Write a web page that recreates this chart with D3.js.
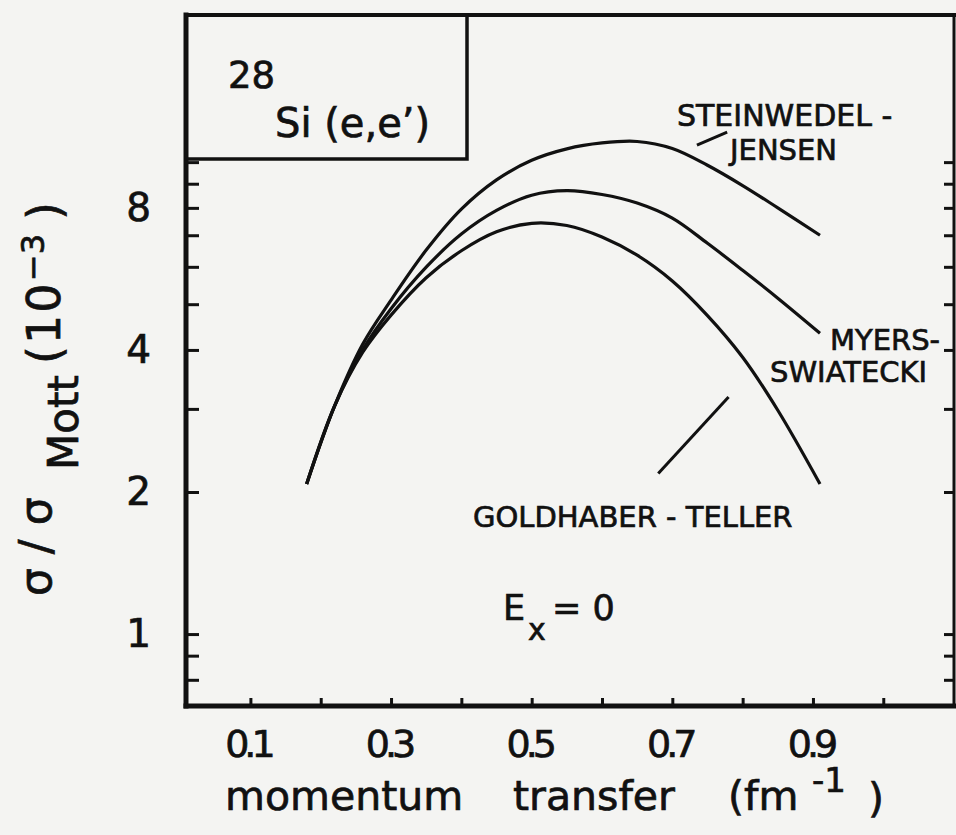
<!DOCTYPE html>
<html>
<head>
<meta charset="utf-8">
<script src="https://cdn.jsdelivr.net/npm/d3@7"></script>
<style>
body{margin:0;background:#f4f4f2;}
svg{display:block;}
text{font-family:"DejaVu Sans",sans-serif;fill:#111;stroke:#111;stroke-width:0.7px;}
</style>
</head>
<body>
<script>
(function(){

//momentum transfer values (fm^-1) where the curves were read
var qValues = [0.18, 0.22, 0.26, 0.30, 0.35, 0.40, 0.45, 0.50, 0.55, 0.60, 0.65, 0.70, 0.75, 0.80, 0.85, 0.91];

//sigma / sigma_Mott (10^-3) for the three models
var steinwedelJensen = [2.08, 3.05, 4.12, 5.10, 6.51, 7.95, 9.17, 10.09, 10.67, 10.98, 11.06, 10.69, 9.85, 8.92, 8.00, 7.0];
var myersSwiatecki   = [2.08, 3.05, 4.01, 4.89, 5.99, 7.04, 7.90, 8.51, 8.70, 8.54, 8.19, 7.61, 6.73, 5.90, 5.15, 4.34];
var goldhaberTeller  = [2.08, 3.05, 3.96, 4.74, 5.69, 6.49, 7.12, 7.42, 7.34, 6.94, 6.35, 5.60, 4.73, 3.86, 2.98, 2.08];

//axis ticks and labels
var xTickValues = [0.1, 0.2, 0.3, 0.4, 0.5, 0.6, 0.7, 0.8, 0.9, 1.0];
var xLabelValues = [0.1, 0.3, 0.5, 0.7, 0.9];
var yTickValues = [0.8, 0.9, 1, 2, 3, 4, 5, 6, 7, 8, 9, 10];
var yLabelValues = [1, 2, 4, 8];

var width = 956,
    height = 835;

var svg = d3.select("body")
    .append("svg")
    .attr("width", width)
    .attr("height", height);

svg.append("rect")
    .attr("width", width)
    .attr("height", height)
    .attr("fill", "#f4f4f2");

//scales
var x = d3.scaleLinear()
    .domain([0.007, 1.102])
    .range([185, 955]);

var y = d3.scaleLog()
    .domain([0.704, 20.5])
    .range([706, 15]);

var ink = "#111";

function styleAxis(g){
    g.select(".domain").remove();
    g.selectAll(".tick line").attr("stroke", ink).attr("stroke-width", 3);
    g.selectAll(".tick text").attr("fill", ink);
}

//inward ticks on left, right and bottom
svg.append("g")
    .attr("transform", "translate(186,0)")
    .call(d3.axisRight(y).tickValues(yTickValues).tickSize(13).tickFormat(""))
    .call(styleAxis);

svg.append("g")
    .attr("transform", "translate(954,0)")
    .call(d3.axisLeft(y).tickValues(yTickValues).tickSize(10).tickFormat(""))
    .call(styleAxis);

svg.append("g")
    .attr("transform", "translate(0,706)")
    .call(d3.axisTop(x).tickValues(xTickValues).tickSize(8).tickFormat(""))
    .call(styleAxis);

//tick labels
svg.append("g")
    .attr("transform", "translate(-3,706)")
    .call(d3.axisBottom(x).tickValues(xLabelValues).tickSize(0).tickPadding(24).tickFormat(d3.format(".1f")))
    .call(styleAxis)
    .selectAll("text")
    .attr("font-size", 38)
    .attr("letter-spacing", -5)
    .attr("font-family", "DejaVu Sans");

svg.append("g")
    .attr("transform", "translate(186,0)")
    .call(d3.axisLeft(y).tickValues(yLabelValues).tickSize(0).tickPadding(35).tickFormat(d3.format("d")))
    .call(styleAxis)
    .selectAll("text")
    .attr("font-size", 39)
    .attr("font-family", "DejaVu Sans");

//frame
var frame = svg.append("g").attr("stroke", ink).attr("stroke-linecap", "square");
frame.append("line").attr("x1", 186).attr("x2", 186).attr("y1", 15).attr("y2", 706).attr("stroke-width", 5);
frame.append("line").attr("x1", 186).attr("x2", 955).attr("y1", 706).attr("y2", 706).attr("stroke-width", 5);
frame.append("line").attr("x1", 186).attr("x2", 955).attr("y1", 15).attr("y2", 15).attr("stroke-width", 4);
frame.append("line").attr("x1", 954).attr("x2", 954).attr("y1", 15).attr("y2", 706).attr("stroke-width", 3);

//inset box
svg.append("rect")
    .attr("x", 186).attr("y", 15)
    .attr("width", 281).attr("height", 144)
    .attr("fill", "none")
    .attr("stroke", ink)
    .attr("stroke-width", 3.5);

//curves
var line = d3.line()
    .x(function(d){ return x(d.q); })
    .y(function(d){ return y(d.v); })
    .curve(d3.curveCatmullRom.alpha(0.5));

[steinwedelJensen, myersSwiatecki, goldhaberTeller].forEach(function(series){
    var pts = qValues.map(function(q, i){ return {q: q, v: series[i]}; });
    svg.append("path")
        .datum(pts)
        .attr("d", line)
        .attr("fill", "none")
        .attr("stroke", ink)
        .attr("stroke-width", 3.2);
});

//leader lines (data units)
var leaders = [
    [{q: 0.735, v: 10.87}, {q: 0.778, v: 11.58}],
    [{q: 0.680, v: 2.19}, {q: 0.780, v: 3.18}]
];
leaders.forEach(function(l){
    svg.append("path")
        .datum(l)
        .attr("d", d3.line().x(function(d){ return x(d.q); }).y(function(d){ return y(d.v); }))
        .attr("stroke", ink)
        .attr("stroke-width", 3);
});

//annotation text
function label(txt, px, py, size){
    return svg.append("text")
        .attr("x", px).attr("y", py)
        .attr("font-size", size)
        .text(txt);
}

label("28", 228, 88, 37);
label("Si (e,e\u2019)", 275, 137, 40);
label("STEINWEDEL -", 677, 126, 30);
label("JENSEN", 730, 160, 29);
label("MYERS-", 830, 350, 29);
label("SWIATECKI", 770, 382, 29);
label("GOLDHABER - TELLER", 473, 527, 29);

label("E", 503, 620, 35);
label("x", 528, 640, 30);
label("= 0", 552, 620, 35);

//x axis title
label("momentum", 225, 810, 41);
label("transfer", 513, 810, 41);
label("(fm", 728, 810, 41);
label("-1", 812, 792, 34);
label(")", 868, 812, 41);

//y axis title (rotated, read bottom to top)
function vlabel(txt, px, py, size){
    return svg.append("text")
        .attr("transform", "translate(" + px + "," + py + ") rotate(-90)")
        .attr("font-size", size)
        .text(txt);
}
vlabel("\u03c3 / \u03c3", 51, 596, 44);
vlabel("Mott", 78, 470, 42);
vlabel("(10", 60, 364, 46).attr("letter-spacing", 2);
vlabel("\u22123", 44, 281, 32);
vlabel(")", 60, 220, 46);

})();
</script>
</body>
</html>
